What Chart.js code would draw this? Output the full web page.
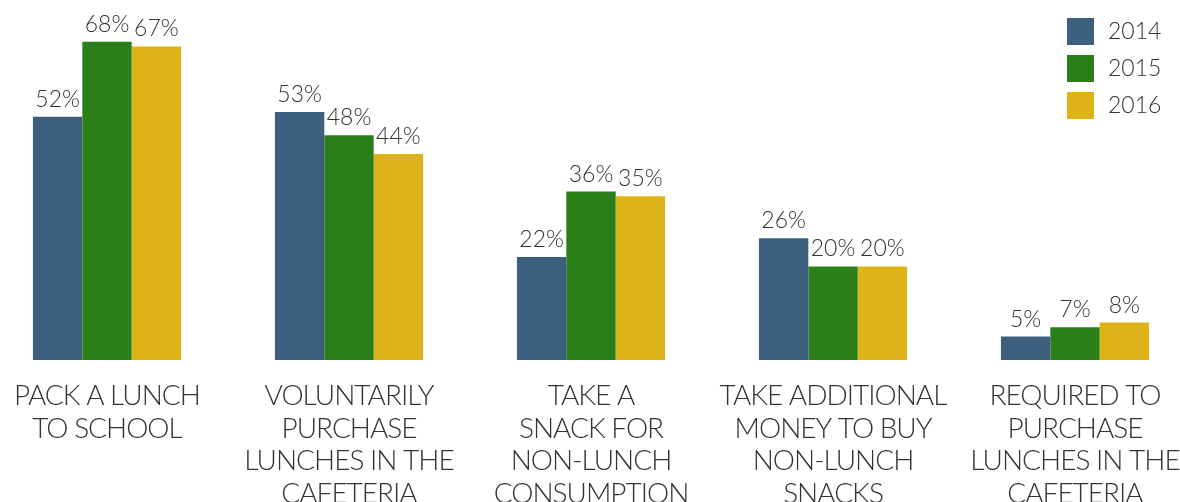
<!DOCTYPE html>
<html>
<head>
<meta charset="utf-8">
<script src="https://cdn.jsdelivr.net/npm/chart.js@4"></script>
<style>
  html, body { margin: 0; padding: 0; background: #fff; overflow: hidden; }
  #wrap { width: 1180px; height: 502px; }
</style>
</head>
<body>
<div id="wrap"><canvas id="lunchChart" width="1180" height="502"></canvas></div>
<script>
const categories = [
  ['PACK A LUNCH', 'TO SCHOOL'],
  ['VOLUNTARILY', 'PURCHASE', 'LUNCHES IN THE', 'CAFETERIA'],
  ['TAKE A', 'SNACK FOR', 'NON-LUNCH', 'CONSUMPTION'],
  ['TAKE ADDITIONAL', 'MONEY TO BUY', 'NON-LUNCH', 'SNACKS'],
  ['REQUIRED TO', 'PURCHASE', 'LUNCHES IN THE', 'CAFETERIA'],
];
const years = ['2014', '2015', '2016'];
const values2014 = [52, 53, 22, 26, 5];
const values2015 = [68, 48, 36, 20, 7];
const values2016 = [67, 44, 35, 20, 8];
const colors = ['#3d5f7e', '#2b7f18', '#ddb317'];

const FONT = 'Lato, "Open Sans", sans-serif';
const TEXT = '#333333';

// category labels are set a little tighter than the rest of the text
const tightTicks = {
  id: 'tightTicks',
  beforeDraw(chart) { chart.ctx.letterSpacing = '-1px'; },
  beforeDatasetsDraw(chart) { chart.ctx.letterSpacing = '0px'; },
};

// percentage above every bar
const valueLabels = {
  id: 'valueLabels',
  afterDatasetsDraw(chart) {
    const ctx = chart.ctx;
    ctx.save();
    ctx.font = '300 23px ' + FONT;
    ctx.fillStyle = TEXT;
    ctx.textAlign = 'center';
    ctx.textBaseline = 'alphabetic';
    chart.data.datasets.forEach((ds, i) => {
      chart.getDatasetMeta(i).data.forEach((bar, j) => {
        ctx.fillText(ds.data[j] + '%', bar.x, bar.y - 10);
      });
    });
    ctx.restore();
  }
};

// stacked legend in the top right corner
const cornerLegend = {
  id: 'cornerLegend',
  afterDraw(chart) {
    const ctx = chart.ctx;
    ctx.save();
    ctx.font = '300 23px ' + FONT;
    ctx.textBaseline = 'middle';
    ctx.textAlign = 'left';
    chart.data.datasets.forEach((ds, i) => {
      const y = 18 + i * 37;
      ctx.fillStyle = ds.backgroundColor;
      ctx.fillRect(1067, y, 27, 27);
      ctx.fillStyle = TEXT;
      ctx.fillText(ds.label, 1108, y + 14);
    });
    ctx.restore();
  }
};

const ctx = document.getElementById('lunchChart').getContext('2d');
const lunchChart = new Chart(ctx, {
  type: 'bar',
  data: {
    labels: categories,
    datasets: [
      { label: years[0], data: values2014, backgroundColor: colors[0] },
      { label: years[1], data: values2015, backgroundColor: colors[1] },
      { label: years[2], data: values2016, backgroundColor: colors[2] },
    ],
  },
  options: {
    responsive: false,
    animation: false,
    layout: {
      padding: { left: 107, right: 105, top: 9, bottom: 0 },
    },
    datasets: {
      bar: {
        categoryPercentage: 0.612,
        barPercentage: 1,
        clip: false,
      },
    },
    plugins: {
      legend: { display: false },
      tooltip: { enabled: false },
    },
    scales: {
      x: {
        offset: false,
        grid: { display: false },
        border: { display: false },
        ticks: {
          color: TEXT,
          font: { family: FONT, size: 28, weight: 300, lineHeight: 1.16 },
          padding: 12,
          maxRotation: 0,
          autoSkip: false,
        },
        // labels may run past the edges; keep the plot area fixed
        afterFit(scale) {
          scale.paddingLeft = 0;
          scale.paddingRight = 0;
          scale.height = 142;
        },
      },
      y: {
        display: false,
        min: 0,
        max: 75,
      },
    },
  },
  plugins: [tightTicks, valueLabels, cornerLegend],
});
</script>
</body>
</html>
